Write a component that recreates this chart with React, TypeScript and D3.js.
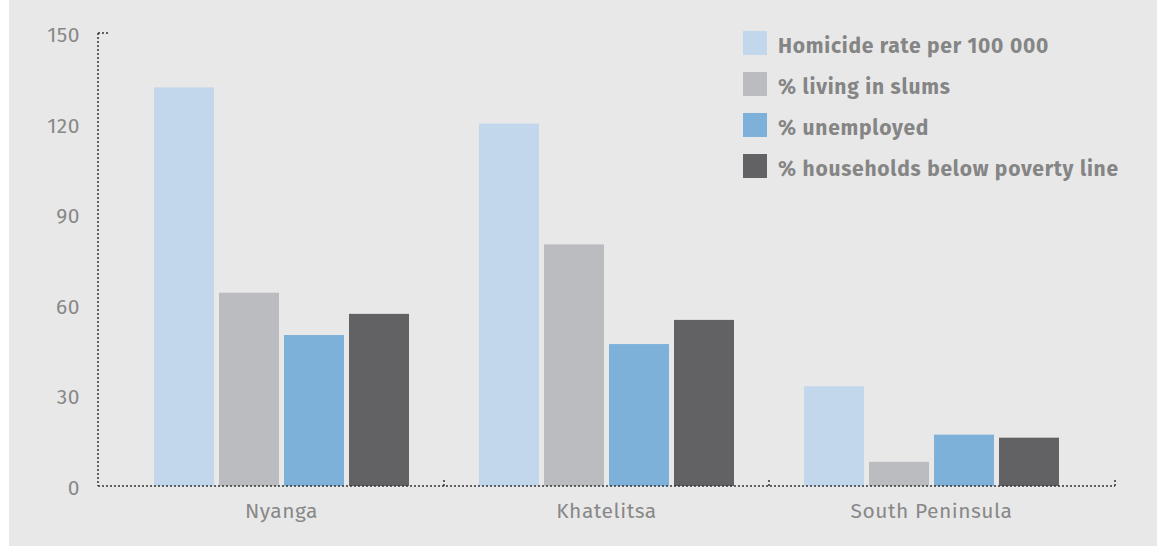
import React from "react";
import * as d3 from "d3";

const categories = ["Nyanga", "Khatelitsa", "South Peninsula"];
const seriesNames = [
  "Homicide rate per 100 000",
  "% living in slums",
  "% unemployed",
  "% households below poverty line",
];
const homicide = [132, 120, 33];
const slums = [64, 80, 8];
const unemployed = [50, 47, 17];
const poverty = [57, 55, 16];
const yTicks = [0, 30, 60, 90, 120, 150];
const colors = ["#c2d7ec", "#bbbcbf", "#7db1d9", "#626264"];

export default function App() {
  const W = 1148, H = 547, ox = 9;
  const series = [homicide, slums, unemployed, poverty];
  const y = d3.scaleLinear().domain([0, 150]).range([486, 33]);
  const x0 = d3.scaleBand().domain(categories).range([119 - ox, 1094 - ox]).paddingInner(0).paddingOuter(0);
  const x1 = d3.scaleBand().domain(seriesNames).range([35, 290]).paddingInner(5 / 65).paddingOuter(0);
  const axL = 98 - ox, axR = 1115 - ox;
  const font = "'Fira Sans', 'Open Sans', sans-serif";
  const dash = "2,2";
  return (
    <svg width={W} height={H} style={{ position: "absolute", left: ox, top: 0 }}>
      <rect x={0} y={0} width={W} height={H - 1} fill="#e8e8e8" />
      {categories.map((c, ci) => (
        <g key={c}>
          {series.map((s, si) => (
            <rect
              key={si}
              x={(x0(c) as number) + (x1(seriesNames[si]) as number)}
              y={y(s[ci])}
              width={x1.bandwidth()}
              height={y(0) - y(s[ci])}
              fill={colors[si]}
            />
          ))}
          <text x={(x0(c) as number) + x0.bandwidth() / 2} y={518} textAnchor="middle" fontFamily={font} fontSize={21} letterSpacing={0.5} fill="#888">
            {c}
          </text>
        </g>
      ))}
      {/* axes */}
      <line x1={axL} x2={axL} y1={y(150)} y2={y(0)} stroke="#333" strokeWidth={1.5} strokeDasharray={dash} />
      <line x1={axL} x2={axL + 10} y1={y(150)} y2={y(150)} stroke="#333" strokeWidth={1.5} strokeDasharray={dash} />
      <line x1={axL} x2={axR} y1={y(0)} y2={y(0)} stroke="#333" strokeWidth={1.5} strokeDasharray={dash} />
      {[...categories.slice(1).map((c) => x0(c) as number), axR].map((tx, i) => (
        <line key={i} x1={tx} x2={tx} y1={y(0)} y2={y(0) - 7} stroke="#333" strokeWidth={1.5} strokeDasharray={dash} />
      ))}
      {yTicks.map((t) => (
        <text key={t} x={80 - ox} y={y(t) + 9} textAnchor="end" fontFamily={font} fontSize={21} letterSpacing={0.5} fill="#888">
          {t}
        </text>
      ))}
      {/* legend */}
      {seriesNames.map((n, i) => (
        <g key={n} transform={`translate(${743 - ox},${31 + i * 41})`}>
          <rect width={24} height={24} fill={colors[i]} />
          <text x={35} y={22} fontFamily={font} fontSize={21} letterSpacing={0.75} fontWeight="bold" fill="#858585">
            {n}
          </text>
        </g>
      ))}
    </svg>
  );
}
